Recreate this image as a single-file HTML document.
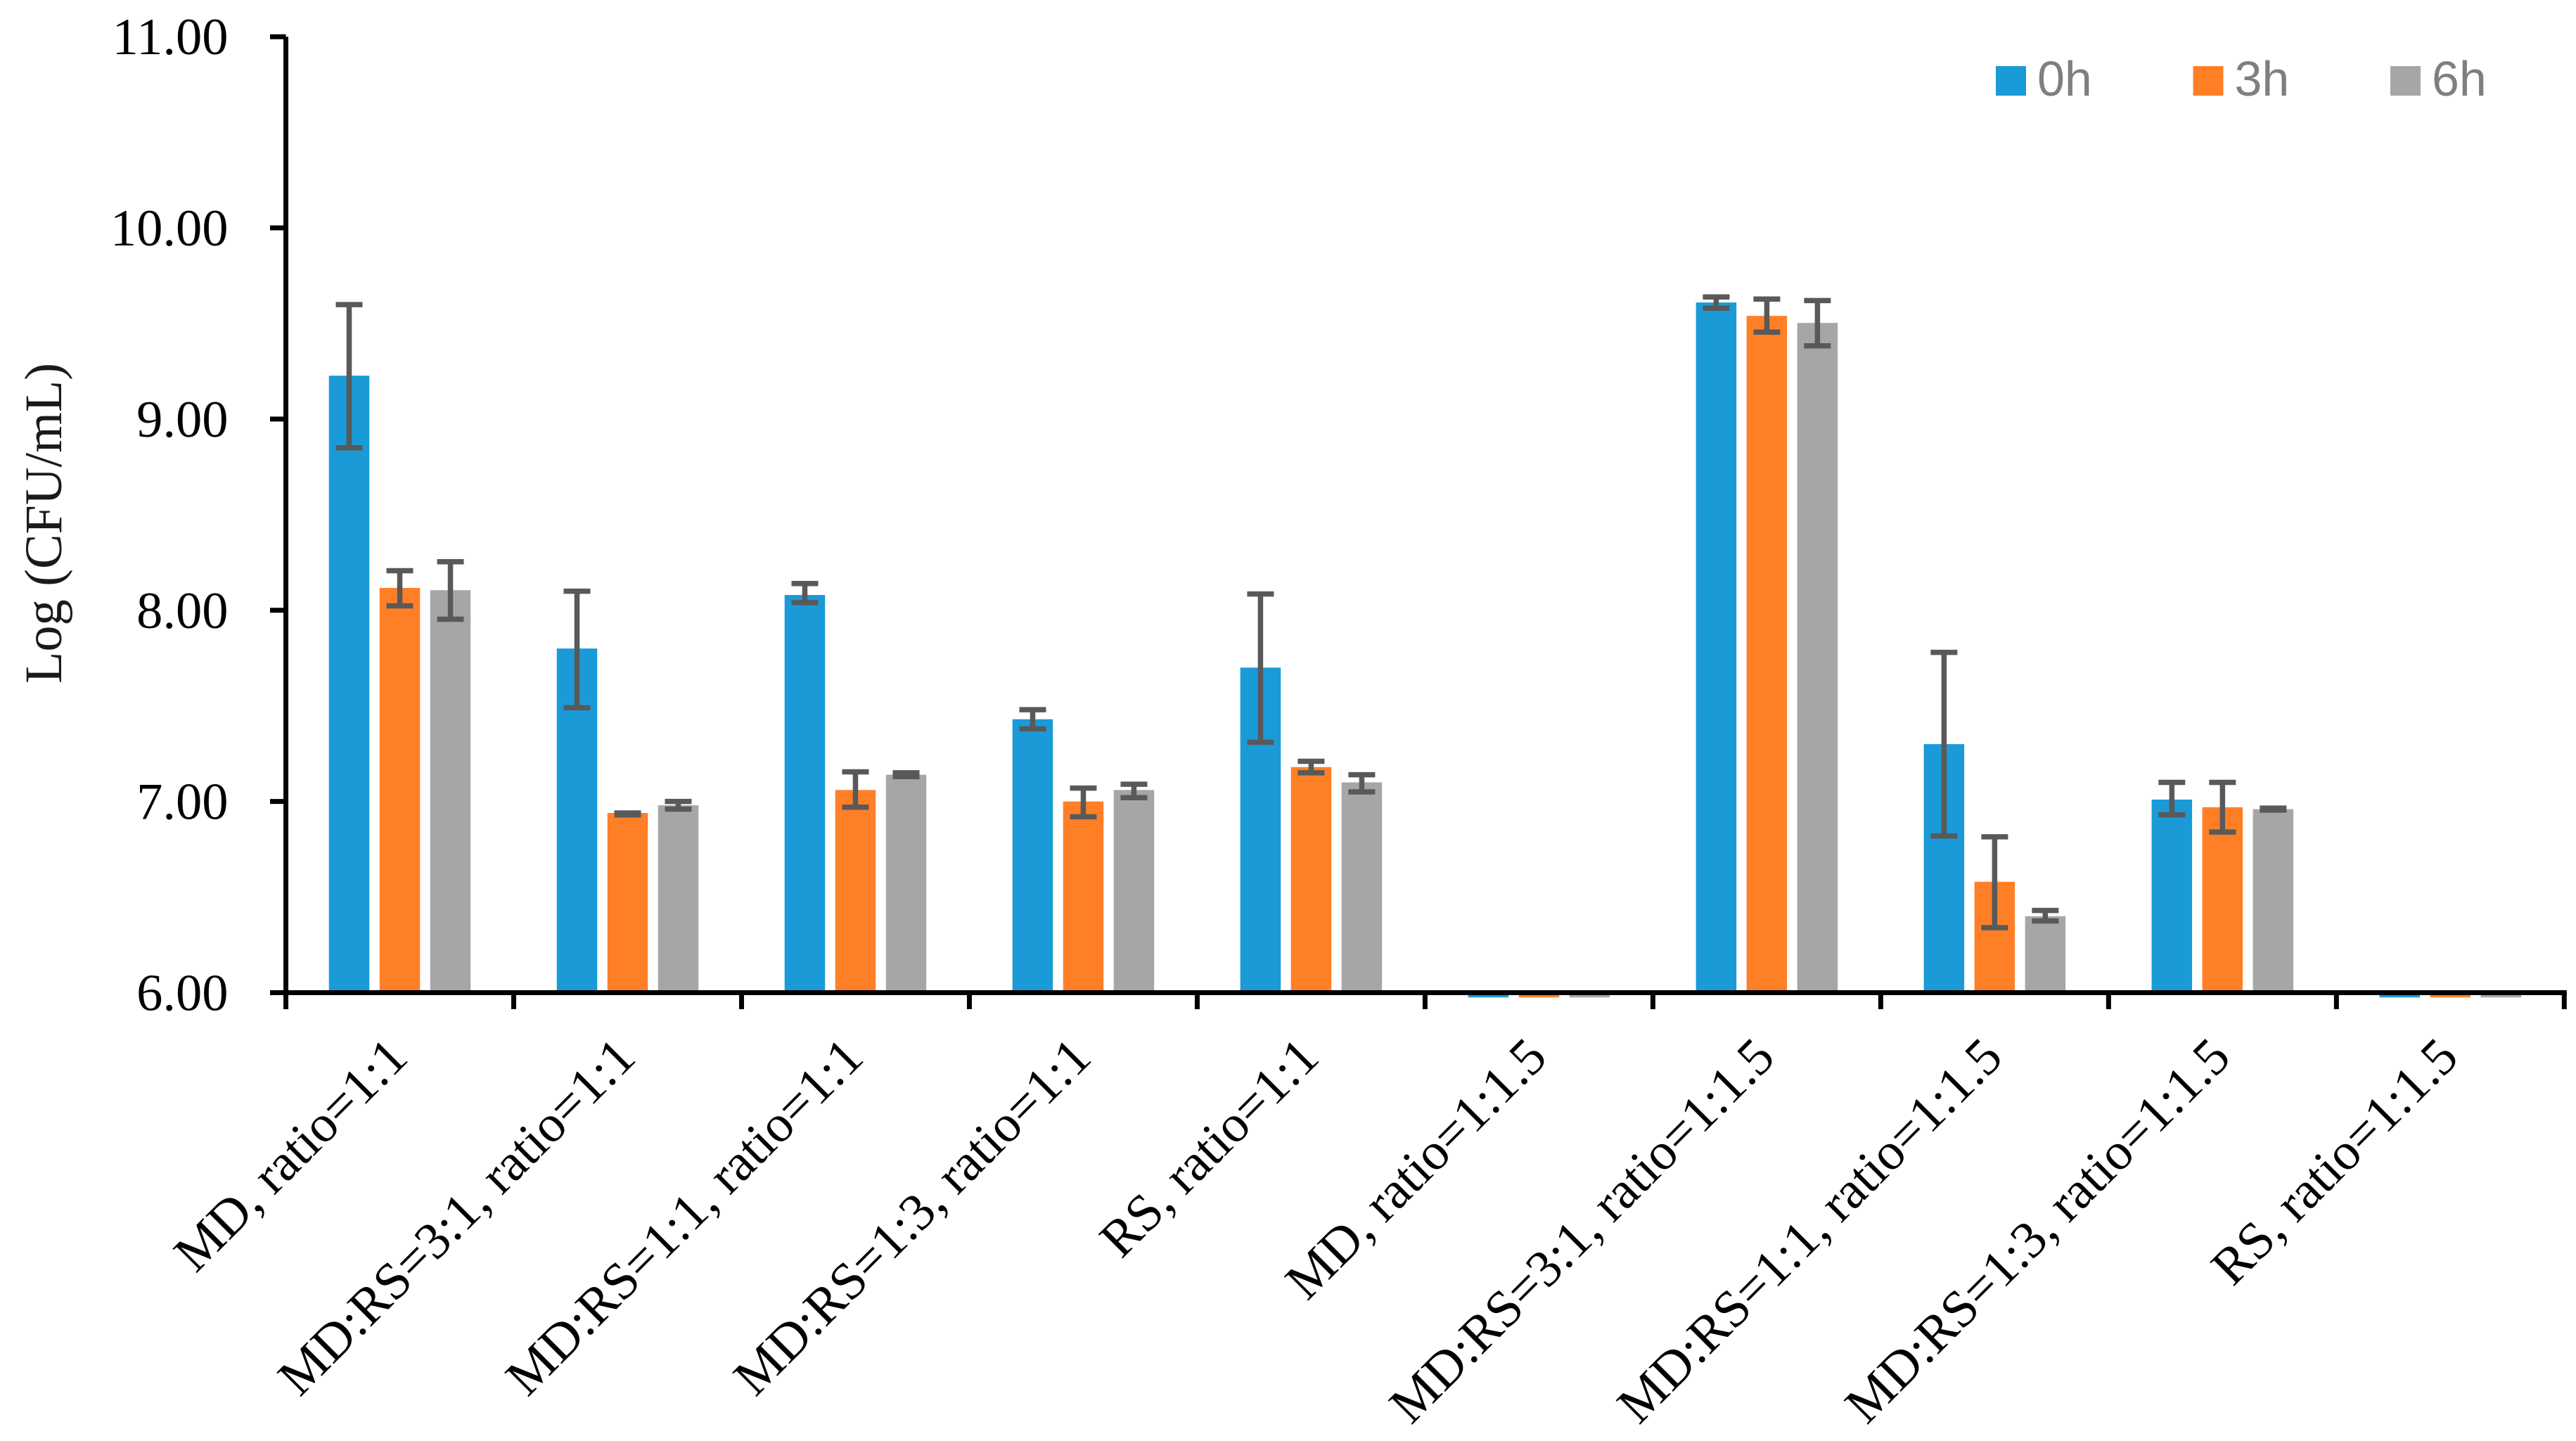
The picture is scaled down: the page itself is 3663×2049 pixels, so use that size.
<!DOCTYPE html>
<html lang="en">
<head>
<meta charset="utf-8">
<title>Log CFU/mL by formulation and time</title>
<style>
html,body{margin:0;padding:0;background:#fff;}
svg{display:block;}
.tick-label{font-family:"Liberation Serif",serif;font-size:74.5px;fill:#000;}
.axis-title{font-family:"Liberation Serif",serif;font-size:75px;fill:#1a1a1a;}
.legend-label{font-family:"Liberation Sans",sans-serif;font-size:70px;fill:#7f7f7f;}
</style>
</head>
<body>
<svg id="chart" xmlns="http://www.w3.org/2000/svg" width="3663" height="2049" viewBox="0 0 3663 2049">
  <rect x="0" y="0" width="3663" height="2049" fill="#ffffff"></rect>
</svg>
<script>
const categories = ["MD, ratio=1:1","MD:RS=3:1, ratio=1:1","MD:RS=1:1, ratio=1:1","MD:RS=1:3, ratio=1:1","RS, ratio=1:1","MD, ratio=1:1.5","MD:RS=3:1, ratio=1:1.5","MD:RS=1:1, ratio=1:1.5","MD:RS=1:3, ratio=1:1.5","RS, ratio=1:1.5"];
const seriesNames = ["0h","3h","6h"];
const values0h = [9.227,7.80,8.08,7.43,7.70,5.975,9.61,7.30,7.01,5.975];
const values3h = [8.117,6.94,7.06,7.00,7.18,5.975,9.54,6.58,6.97,5.975];
const values6h = [8.105,6.98,7.14,7.06,7.10,5.975,9.503,6.40,6.96,5.975];
const errHigh0h = [9.599,8.10,8.14,7.48,8.085,null,9.639,7.78,7.10,null];
const errLow0h = [8.85,7.49,8.04,7.38,7.31,null,9.58,6.82,6.93,null];
const errHigh3h = [8.207,6.94,7.155,7.07,7.21,null,9.628,6.815,7.10,null];
const errLow3h = [8.023,6.93,6.97,6.92,7.15,null,9.455,6.34,6.84,null];
const errHigh6h = [8.254,7.00,7.15,7.09,7.14,null,9.62,6.43,6.965,null];
const errLow6h = [7.953,6.96,7.13,7.02,7.05,null,9.383,6.375,6.955,null];
const yTickValues = [6,7,8,9,10,11];
const yTickLabels = ["6.00","7.00","8.00","9.00","10.00","11.00"];

const svg = document.getElementById('chart');
const NS = 'http://www.w3.org/2000/svg';
const seriesValues = [values0h, values3h, values6h];
const seriesHigh = [errHigh0h, errHigh3h, errHigh6h];
const seriesLow = [errLow0h, errLow3h, errLow6h];
const seriesColors = ['#1a9bd7', '#ff7f27', '#a6a6a6'];

const plotLeft = 406.5, plotBase = 1411.5, unitHeight = 271.86, bandWidth = 323.98;
const barWidth = 57.5, barPitch = 72;

function yScale(v) { return plotBase - (v - 6) * unitHeight; }
function bandStart(i) { return plotLeft + i * bandWidth; }
function bandCenter(i) { return bandStart(i) + bandWidth / 2; }
function barCenter(i, s) { return bandCenter(i) + (s - 1) * barPitch; }

function make(tag, attrs) {
  const el = document.createElementNS(NS, tag);
  for (const k in attrs) el.setAttribute(k, attrs[k]);
  svg.appendChild(el);
  return el;
}

/* bars */
seriesValues.forEach(function (vals, s) {
  vals.forEach(function (v, i) {
    const y0 = yScale(6), y1 = yScale(v);
    const el = make('rect', {
      x: barCenter(i, s) - barWidth / 2,
      y: Math.min(y0, y1),
      width: barWidth,
      height: Math.abs(y1 - y0),
      fill: seriesColors[s]
    });
    
    
  });
});

/* y axis */
const yAxisLine = make('line', { x1: plotLeft, x2: plotLeft, y1: yScale(11) , y2: 1435, stroke: '#000', 'stroke-width': 7 });



yTickValues.forEach(function (v, i) {
  const t = make('line', { x1: 384, x2: plotLeft, y1: yScale(v), y2: yScale(v), stroke: '#000', 'stroke-width': 7 });
  
  
  const lab = make('text', { x: 324.5, y: yScale(v) + 25, 'text-anchor': 'end', class: 'tick-label' });
  lab.textContent = yTickLabels[i];
  
  
});

/* x axis */
const xAxisLine = make('line', { x1: 384, x2: bandStart(categories.length) + 3.5, y1: plotBase, y2: plotBase, stroke: '#000', 'stroke-width': 7 });



for (let i = 1; i <= categories.length; i++) {
  const t = make('line', { x1: bandStart(i), x2: bandStart(i), y1: plotBase, y2: 1435, stroke: '#000', 'stroke-width': 7 });
  
  
}

categories.forEach(function (c, i) {
  const ax = bandCenter(i) + 14.5, ay = 1507;
  const lab = make('text', { x: ax, y: ay, 'text-anchor': 'end', class: 'tick-label', transform: 'rotate(-45 ' + ax + ' ' + ay + ')' });
  lab.textContent = c;
  
  
});

/* error bars */
seriesHigh.forEach(function (highs, s) {
  highs.forEach(function (hi, i) {
    const lo = seriesLow[s][i];
    if (hi === null || lo === null) return;
    const cx = barCenter(i, s);
    const path = 'M' + (cx - 19) + ' ' + yScale(hi) + 'H' + (cx + 19) +
                 'M' + cx + ' ' + yScale(hi) + 'V' + yScale(lo) +
                 'M' + (cx - 19) + ' ' + yScale(lo) + 'H' + (cx + 19);
    const el = make('path', { d: path, stroke: '#595959', 'stroke-width': 7.5, fill: 'none' });
    
    
  });
});

/* y axis title */
const yTitle = make('text', { x: 87, y: 972, class: 'axis-title', textLength: 456, lengthAdjust: 'spacingAndGlyphs', transform: 'rotate(-90 87 972)' });
yTitle.textContent = 'Log (CFU/mL)';



/* legend */
seriesNames.forEach(function (n, s) {
  const lx = 2838 + s * 280.5;
  const sw = make('rect', { x: lx, y: 94, width: 43, height: 42, fill: seriesColors[s] });
  
  
  const tx = make('text', { x: lx + 59, y: 136, class: 'legend-label' });
  tx.textContent = n;
  
  
});
</script>
</body>
</html>
